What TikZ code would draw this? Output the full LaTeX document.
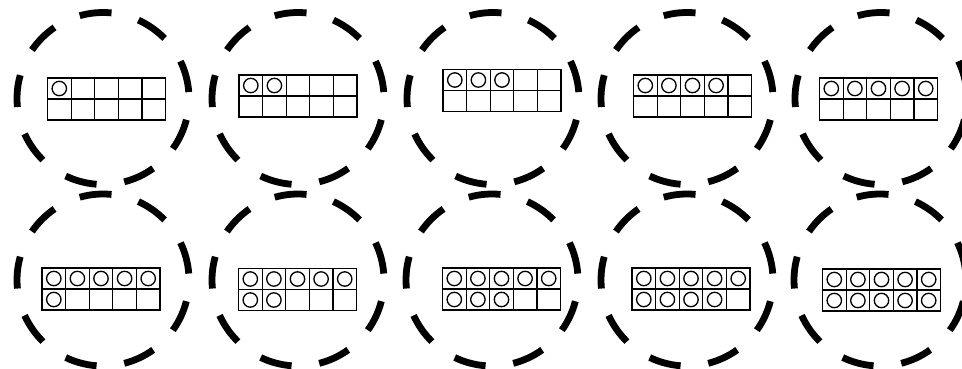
\documentclass[tikz,border=0pt]{standalone}
\begin{document}
\begin{tikzpicture}[x=1pt,y=1pt]
\tikzset{ring/.style={line width=6.8pt},
  cell/.style={line width=1.2pt},
  counter/.style={line width=1.3pt}}
\useasboundingbox (0,0) rectangle (962,368);
\def\r{86}
\def\cw{23.6}
\def\ch{21}
\foreach \n/\cx/\cy/\fx/\fy in {1/103/269.5/106.5/269,2/298/269.5/298/272,3/493/269.5/502/277.5,4/687/269.5/692.5/272,5/881/269.5/878.5/269,
	6/103/88/101/79,7/298/88/297.5/78.5,8/492/88/501.5/79,9/687/88/691/79,10/880/88/881.5/78}{
	\coordinate (ring\n) at (\cx,\cy);
	\coordinate (frame\n) at (\fx,\fy);
	\foreach \a in {15,55,...,335}
		\draw[ring] (ring\n) ++(\a-10.7:\r) arc[start angle=\a-10.7,end angle=\a+10.7,radius=\r];
	\draw[cell] ([shift={({-2.5*\cw},-\ch)}]frame\n) rectangle ([shift={({2.5*\cw},\ch)}]frame\n);
	\draw[cell] ([shift={({-2.5*\cw},0)}]frame\n) -- ([shift={({2.5*\cw},0)}]frame\n);
	\foreach \c in {-1.5,-0.5,0.5,1.5}
		\draw[cell] ([shift={({\c*\cw},-\ch)}]frame\n) -- ([shift={({\c*\cw},\ch)}]frame\n);
	\foreach \k in {1,...,\n}{
		\pgfmathsetmacro{\col}{mod(\k-1,5)}
		\pgfmathsetmacro{\row}{floor((\k-1)/5)}
		\draw[counter] ([shift={({(\col-2)*\cw},{(0.5-\row)*\ch})}]frame\n) circle[radius=7.2];}}
\end{tikzpicture}
\end{document}
